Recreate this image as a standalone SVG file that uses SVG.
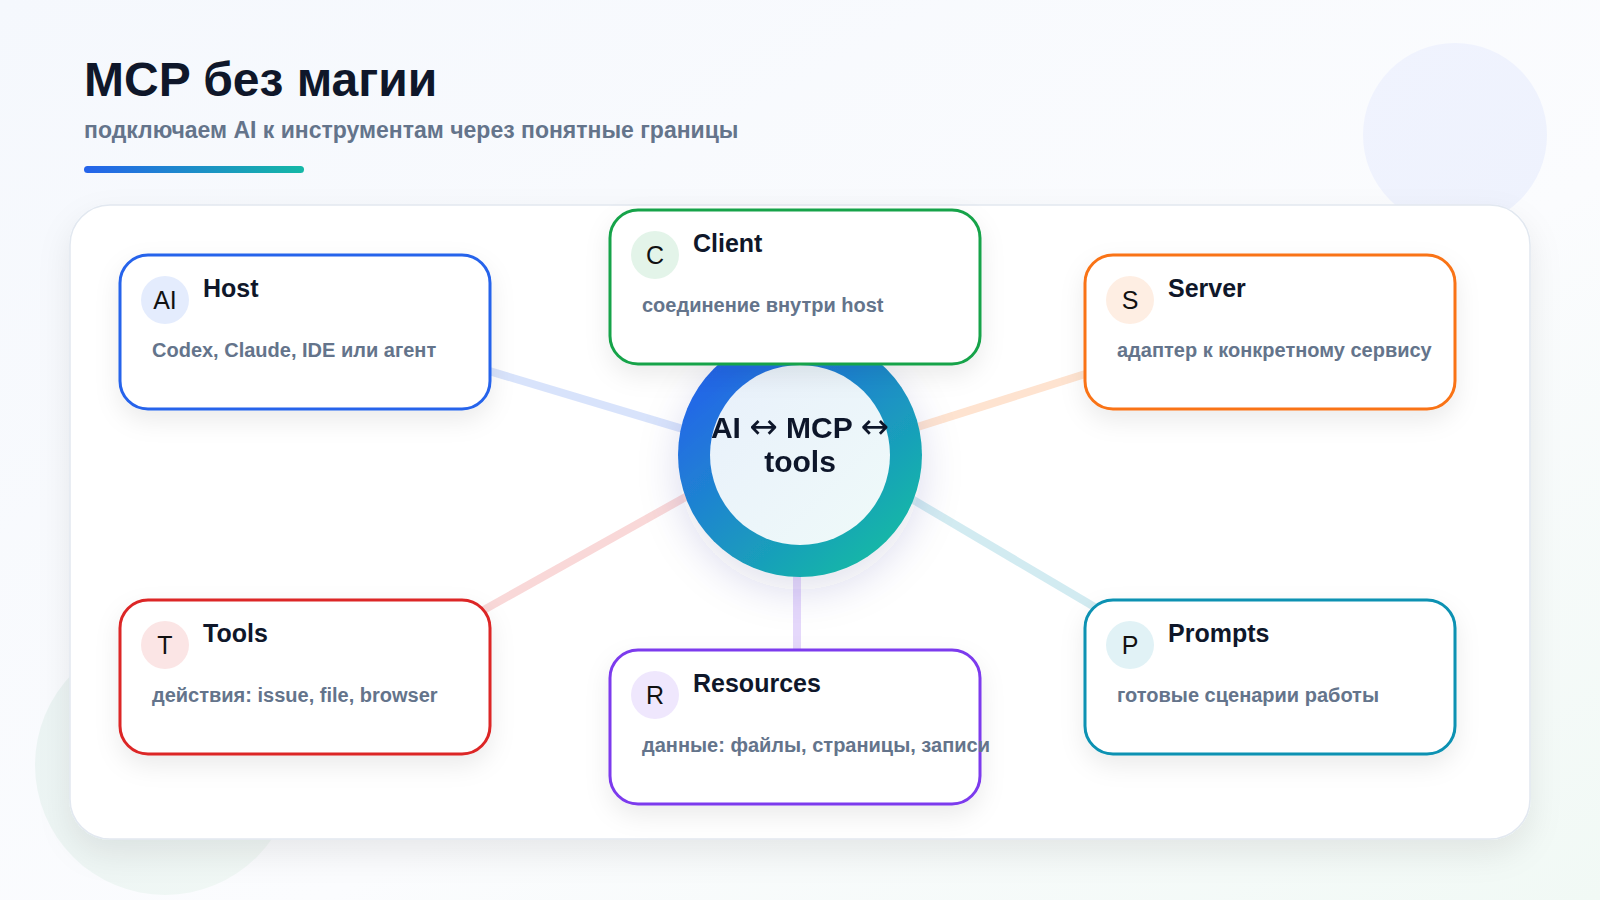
<svg xmlns="http://www.w3.org/2000/svg" width="1600" height="900" viewBox="0 0 1600 900">
  <defs>
    <linearGradient id="bg" x1="0" y1="0" x2="1" y2="1">
      <stop offset="0" stop-color="#f5f8fd"/>
      <stop offset="0.6" stop-color="#fbfcfe"/>
      <stop offset="1" stop-color="#f1f9f5"/>
    </linearGradient>
    <linearGradient id="accent" x1="0" y1="0" x2="1" y2="0">
      <stop offset="0" stop-color="#2563eb"/>
      <stop offset="1" stop-color="#14b8a6"/>
    </linearGradient>
    <linearGradient id="ring" x1="0.15" y1="0.1" x2="0.85" y2="0.9">
      <stop offset="0" stop-color="#2563eb"/>
      <stop offset="1" stop-color="#14b8a6"/>
    </linearGradient>
    <linearGradient id="core" x1="0" y1="0" x2="1" y2="1">
      <stop offset="0" stop-color="#e8f0fb"/>
      <stop offset="1" stop-color="#effaf9"/>
    </linearGradient>
    <linearGradient id="blobTR" x1="0" y1="0" x2="1" y2="1">
      <stop offset="0" stop-color="#f0f3fe"/>
      <stop offset="1" stop-color="#eef2fd"/>
    </linearGradient>
    <linearGradient id="blobBL" x1="0" y1="0" x2="1" y2="1">
      <stop offset="0" stop-color="#eaf3f3"/>
      <stop offset="1" stop-color="#f1f8f5"/>
    </linearGradient>
    <filter id="panelShadow" x="-10%" y="-10%" width="120%" height="130%">
      <feDropShadow dx="0" dy="14" stdDeviation="16" flood-color="#0f172a" flood-opacity="0.08"/>
    </filter>
    <filter id="nodeShadow" x="-20%" y="-20%" width="140%" height="160%">
      <feDropShadow dx="0" dy="10" stdDeviation="12" flood-color="#0f172a" flood-opacity="0.08"/>
    </filter>
    <filter id="hubShadow" x="-40%" y="-40%" width="180%" height="180%">
      <feDropShadow dx="0" dy="14" stdDeviation="20" flood-color="#312e81" flood-opacity="0.14"/>
    </filter>
    <style>
      .title { font-family: "Liberation Sans", Arial, sans-serif; font-weight: 700; font-size: 48px; fill: #0f172a; }
      .sub { font-family: "Liberation Sans", Arial, sans-serif; font-weight: 700; font-size: 23px; fill: #64748b; }
      .box { fill: #ffffff; stroke-width: 3; filter: url(#nodeShadow); }
      .head { font-family: "Liberation Sans", Arial, sans-serif; font-weight: 700; font-size: 25px; fill: #0f172a; }
      .desc { font-family: "Liberation Sans", Arial, sans-serif; font-weight: 700; font-size: 20px; fill: #64748b; }
      .ico { font-family: "Liberation Sans", Arial, sans-serif; font-weight: 400; font-size: 25px; fill: #111111; text-anchor: middle; }
      .hub { font-family: "Liberation Sans", "DejaVu Sans", sans-serif; font-weight: 700; font-size: 30px; fill: #0f172a; text-anchor: middle; }
      .arr { font-family: "DejaVu Sans", sans-serif; font-weight: 400; font-size: 34px; }
      .link { stroke-width: 8; stroke-linecap: butt; fill: none; }
    </style>
  </defs>

  <rect x="0" y="0" width="1600" height="900" fill="url(#bg)"/>
  <circle cx="1455" cy="135" r="92" fill="url(#blobTR)"/>
  <circle cx="165" cy="765" r="130" fill="url(#blobBL)"/>

  <text class="title" x="84" y="96">MCP без магии</text>
  <text class="sub" x="84" y="138">подключаем AI к инструментам через понятные границы</text>
  <rect x="84" y="166" width="220" height="7" rx="3.5" fill="url(#accent)"/>

  <rect id="panel" x="70" y="205" width="1460" height="634" rx="40" fill="#ffffff" stroke="#e2e8f0" stroke-width="1.5" filter="url(#panelShadow)"/>

  <g id="connectors">
    <line class="link" x1="800" y1="464" x2="305" y2="316" stroke="#2563eb" stroke-opacity="0.18"/>
    <line class="link" x1="800" y1="464" x2="1269" y2="316" stroke="#f97316" stroke-opacity="0.2"/>
    <line class="link" x1="800" y1="433" x2="305" y2="710" stroke="#dc2626" stroke-opacity="0.18"/>
    <line class="link" x1="800" y1="433" x2="1269" y2="710" stroke="#0891b2" stroke-opacity="0.18"/>
    <line class="link" x1="797" y1="450" x2="797" y2="720" stroke="#7c3aed" stroke-opacity="0.2"/>
  </g>

  <g id="hub" filter="url(#hubShadow)">
    <circle cx="800" cy="455" r="122" fill="url(#ring)"/>
    <circle cx="800" cy="455" r="90" fill="url(#core)"/>
    <text class="hub" x="800" y="438">AI <tspan class="arr">↔</tspan> MCP <tspan class="arr">↔</tspan></text>
    <text class="hub" x="800" y="472">tools</text>
  </g>

  <g id="host">
    <rect class="box" x="120" y="255" width="370" height="154" rx="28" stroke="#2563eb"/>
    <circle cx="165" cy="300" r="24" fill="#2563eb" fill-opacity="0.12"/>
    <text class="ico" x="165" y="309">AI</text>
    <text class="head" x="203" y="297">Host</text>
    <text class="desc" x="152" y="357">Codex, Claude, IDE или агент</text>
  </g>

  <g id="client">
    <rect class="box" x="610" y="210" width="370" height="154" rx="28" stroke="#16a34a"/>
    <circle cx="655" cy="255" r="24" fill="#16a34a" fill-opacity="0.12"/>
    <text class="ico" x="655" y="264">C</text>
    <text class="head" x="693" y="252">Client</text>
    <text class="desc" x="642" y="312">соединение внутри host</text>
  </g>

  <g id="server">
    <rect class="box" x="1085" y="255" width="370" height="154" rx="28" stroke="#f97316"/>
    <circle cx="1130" cy="300" r="24" fill="#f97316" fill-opacity="0.12"/>
    <text class="ico" x="1130" y="309">S</text>
    <text class="head" x="1168" y="297">Server</text>
    <text class="desc" x="1117" y="357">адаптер к конкретному сервису</text>
  </g>

  <g id="tools">
    <rect class="box" x="120" y="600" width="370" height="154" rx="28" stroke="#dc2626"/>
    <circle cx="165" cy="645" r="24" fill="#dc2626" fill-opacity="0.12"/>
    <text class="ico" x="165" y="654">T</text>
    <text class="head" x="203" y="642">Tools</text>
    <text class="desc" x="152" y="702">действия: issue, file, browser</text>
  </g>

  <g id="resources">
    <rect class="box" x="610" y="650" width="370" height="154" rx="28" stroke="#7c3aed"/>
    <circle cx="655" cy="695" r="24" fill="#7c3aed" fill-opacity="0.12"/>
    <text class="ico" x="655" y="704">R</text>
    <text class="head" x="693" y="692">Resources</text>
    <text class="desc" x="642" y="752">данные: файлы, страницы, записи</text>
  </g>

  <g id="prompts">
    <rect class="box" x="1085" y="600" width="370" height="154" rx="28" stroke="#0891b2"/>
    <circle cx="1130" cy="645" r="24" fill="#0891b2" fill-opacity="0.12"/>
    <text class="ico" x="1130" y="654">P</text>
    <text class="head" x="1168" y="642">Prompts</text>
    <text class="desc" x="1117" y="702">готовые сценарии работы</text>
  </g>
</svg>
